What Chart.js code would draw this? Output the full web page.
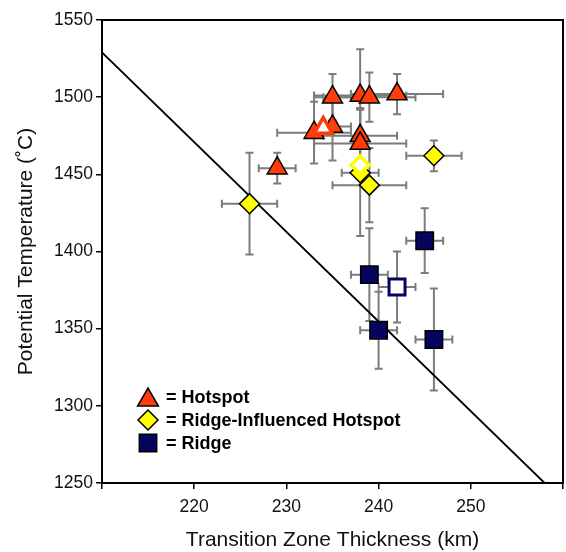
<!DOCTYPE html>
<html>
<head>
<meta charset="utf-8">
<script src="https://cdn.jsdelivr.net/npm/chart.js@4/dist/chart.umd.min.js"></script>
<style>
  html, body { margin: 0; padding: 0; background: #fff; overflow: hidden; }
  #wrap { width: 566px; height: 552px; }
  canvas { display: block; }
</style>
</head>
<body>
<div id="wrap"><canvas id="tzChart" width="566" height="552"></canvas></div>
<script>
// transition zone thickness (km) vs potential temperature (C)
const hotspotX    = [229, 235, 238, 239, 242, 233, 235, 238, 238];
const hotspotY    = [1454, 1500, 1501, 1500, 1502, 1477, 1481, 1475, 1470];
const hotspotXErr = [2, 2, 5, 5, 5, 4, 2, 4, 5];
const hotspotYErr = [10, 15, 30, 16, 13, 20, 22, 18, 22];

const hotspotOpenX = [234];
const hotspotOpenY = [1480];

const ridgeInfX    = [226, 238, 239, 246];
const ridgeInfY    = [1431, 1451, 1443, 1462];
const ridgeInfXErr = [3, 2, 4, 3];
const ridgeInfYErr = [33, 41, 24, 10];

const ridgeInfOpenX = [238];
const ridgeInfOpenY = [1456];

const ridgeX    = [245, 239, 240, 246];
const ridgeY    = [1407, 1385, 1349, 1343];
const ridgeXErr = [2, 2, 2, 2];
const ridgeYErr = [21, 30, 25, 33];

const ridgeOpenX    = [242];
const ridgeOpenY    = [1377];
const ridgeOpenXErr = [2];
const ridgeOpenYErr = [23];

const lineX = [210, 258];
const lineY = [1529, 1250];

const xTickLabels = [220, 230, 240, 250];

const legendLabels = ["= Hotspot", "= Ridge-Influenced Hotspot", "= Ridge"];

const FONT = "'Liberation Sans', Arial, Helvetica, sans-serif";
const RED = "#ff3c0a";
const YELLOW = "#ffff00";
const NAVY = "#05055e";

const pts = (xs, ys) => xs.map((x, i) => ({ x: x, y: ys[i] }));

const errorSets = [
    { x: hotspotX, y: hotspotY, xe: hotspotXErr, ye: hotspotYErr },
    { x: ridgeInfX, y: ridgeInfY, xe: ridgeInfXErr, ye: ridgeInfYErr },
    { x: ridgeX, y: ridgeY, xe: ridgeXErr, ye: ridgeYErr },
    { x: ridgeOpenX, y: ridgeOpenY, xe: ridgeOpenXErr, ye: ridgeOpenYErr },
];

const errorBars = {
    id: "errorBars",
    beforeDatasetsDraw(chart) {
        const { ctx, scales: { x, y } } = chart;
        const cap = 4;
        ctx.save();
        ctx.strokeStyle = "#7c7c7c";
        ctx.lineWidth = 2;
        errorSets.forEach(s => {
            s.x.forEach((xv, i) => {
                const px = x.getPixelForValue(xv);
                const py = y.getPixelForValue(s.y[i]);
                const x0 = x.getPixelForValue(xv - s.xe[i]);
                const x1 = x.getPixelForValue(xv + s.xe[i]);
                const y0 = y.getPixelForValue(s.y[i] + s.ye[i]);
                const y1 = y.getPixelForValue(s.y[i] - s.ye[i]);
                ctx.beginPath();
                ctx.moveTo(x0, py); ctx.lineTo(x1, py);
                ctx.moveTo(x0, py - cap); ctx.lineTo(x0, py + cap);
                ctx.moveTo(x1, py - cap); ctx.lineTo(x1, py + cap);
                ctx.moveTo(px, y0); ctx.lineTo(px, y1);
                ctx.moveTo(px - cap, y0); ctx.lineTo(px + cap, y0);
                ctx.moveTo(px - cap, y1); ctx.lineTo(px + cap, y1);
                ctx.stroke();
            });
        });
        ctx.restore();
    }
};

// box round the plot + legend inside it
const frameAndLegend = {
    id: "frameAndLegend",
    afterDraw(chart) {
        const { ctx, chartArea: a } = chart;
        ctx.save();
        ctx.strokeStyle = "#000";
        ctx.lineWidth = 2;
        ctx.strokeRect(a.left, a.top, a.right - a.left, a.bottom - a.top);

        const mx = 148, rows = [397, 420, 443];
        ctx.lineWidth = 1.5;
        ctx.strokeStyle = "#000";
        // triangle
        let r = 12;
        ctx.beginPath();
        ctx.moveTo(mx, rows[0] - r * 0.75);
        ctx.lineTo(mx + r * 0.866, rows[0] + r * 0.75);
        ctx.lineTo(mx - r * 0.866, rows[0] + r * 0.75);
        ctx.closePath();
        ctx.fillStyle = RED; ctx.fill(); ctx.stroke();
        // diamond
        r = 10;
        ctx.beginPath();
        ctx.moveTo(mx, rows[1] - r);
        ctx.lineTo(mx + r, rows[1]);
        ctx.lineTo(mx, rows[1] + r);
        ctx.lineTo(mx - r, rows[1]);
        ctx.closePath();
        ctx.fillStyle = YELLOW; ctx.fill(); ctx.stroke();
        // square
        r = 8.7;
        ctx.beginPath();
        ctx.rect(mx - r, rows[2] - r, 2 * r, 2 * r);
        ctx.fillStyle = NAVY; ctx.fill(); ctx.stroke();

        ctx.fillStyle = "#000";
        ctx.font = "bold 18px " + FONT;
        ctx.textAlign = "left";
        ctx.textBaseline = "middle";
        legendLabels.forEach((t, i) => ctx.fillText(t, 166, rows[i] + 1));
        ctx.restore();
    }
};

const tickFont = { family: FONT, size: 17.5 };
const xTickFont = { family: FONT, size: 17.5, lineHeight: 2.1 };
const titleFont = { family: FONT, size: 21, lineHeight: 1.15 };

const canvas = document.getElementById("tzChart");

if (canvas) {
    const data = {
        datasets: [
            {
                label: "Hotspot (open)",
                data: pts(hotspotOpenX, hotspotOpenY),
                pointStyle: "triangle",
                pointRadius: 10.5,
                backgroundColor: "#fff",
                borderColor: RED,
                borderWidth: 3.5,
            },
            {
                label: "Hotspot",
                data: pts(hotspotX, hotspotY),
                pointStyle: "triangle",
                pointRadius: 11.5,
                backgroundColor: RED,
                borderColor: "#000",
                borderWidth: 1.5,
            },
            {
                label: "Ridge-Influenced Hotspot (open)",
                data: pts(ridgeInfOpenX, ridgeInfOpenY),
                pointStyle: "rectRot",
                pointRadius: 9,
                backgroundColor: "#fff",
                borderColor: YELLOW,
                borderWidth: 3.5,
            },
            {
                label: "Ridge-Influenced Hotspot",
                data: pts(ridgeInfX, ridgeInfY),
                pointStyle: "rectRot",
                pointRadius: 10,
                backgroundColor: YELLOW,
                borderColor: "#000",
                borderWidth: 1.5,
            },
            {
                label: "Ridge (open)",
                data: pts(ridgeOpenX, ridgeOpenY),
                pointStyle: "rect",
                pointRadius: 11.3,
                backgroundColor: "#fff",
                borderColor: NAVY,
                borderWidth: 3,
            },
            {
                label: "Ridge",
                data: pts(ridgeX, ridgeY),
                pointStyle: "rect",
                pointRadius: 12.3,
                backgroundColor: NAVY,
                borderColor: "#000",
                borderWidth: 1.5,
            },
            {
                type: "line",
                label: "fit",
                data: pts(lineX, lineY),
                borderColor: "#000",
                borderWidth: 1.8,
                pointRadius: 0,
                fill: false,
            },
        ],
    };

    const config = {
        type: "scatter",
        data: data,
        plugins: [errorBars, frameAndLegend],
        options: {
            responsive: false,
            animation: false,
            // autoPadding would reserve room for the big markers on the right
            layout: { autoPadding: false, padding: { top: 20, right: 3, left: 0, bottom: 0 } },
            plugins: {
                legend: { display: false },
                tooltip: { enabled: false },
            },
            scales: {
                x: {
                    type: "linear",
                    min: 210,
                    max: 260,
                    afterFit: s => { s.height = 69; },
                    ticks: {
                        stepSize: 10,
                        padding: 0,
                        color: "#111",
                        font: xTickFont,
                        maxRotation: 0,
                        callback: v => xTickLabels.includes(v) ? String(v) : "",
                    },
                    grid: { drawOnChartArea: false, tickLength: 6, color: "#000", lineWidth: 1.5 },
                    border: { color: "#000", width: 2 },
                    title: {
                        display: true,
                        text: "Transition Zone Thickness (km)",
                        color: "#111",
                        font: titleFont,
                        padding: { top: 0, bottom: 0 },
                    },
                },
                y: {
                    min: 1250,
                    max: 1550,
                    afterFit: s => { s.width = 102; },
                    ticks: {
                        stepSize: 50,
                        padding: 3,
                        color: "#111",
                        font: tickFont,
                        callback: v => String(v),
                    },
                    grid: { drawOnChartArea: false, tickLength: 6, color: "#000", lineWidth: 1.5 },
                    border: { color: "#000", width: 2 },
                    title: {
                        display: true,
                        text: "Potential Temperature (˚C)",
                        color: "#111",
                        font: titleFont,
                        padding: { top: 14, bottom: 0 },
                    },
                },
            },
        },
    };

    new Chart(canvas, config);
}
</script>
</body>
</html>
